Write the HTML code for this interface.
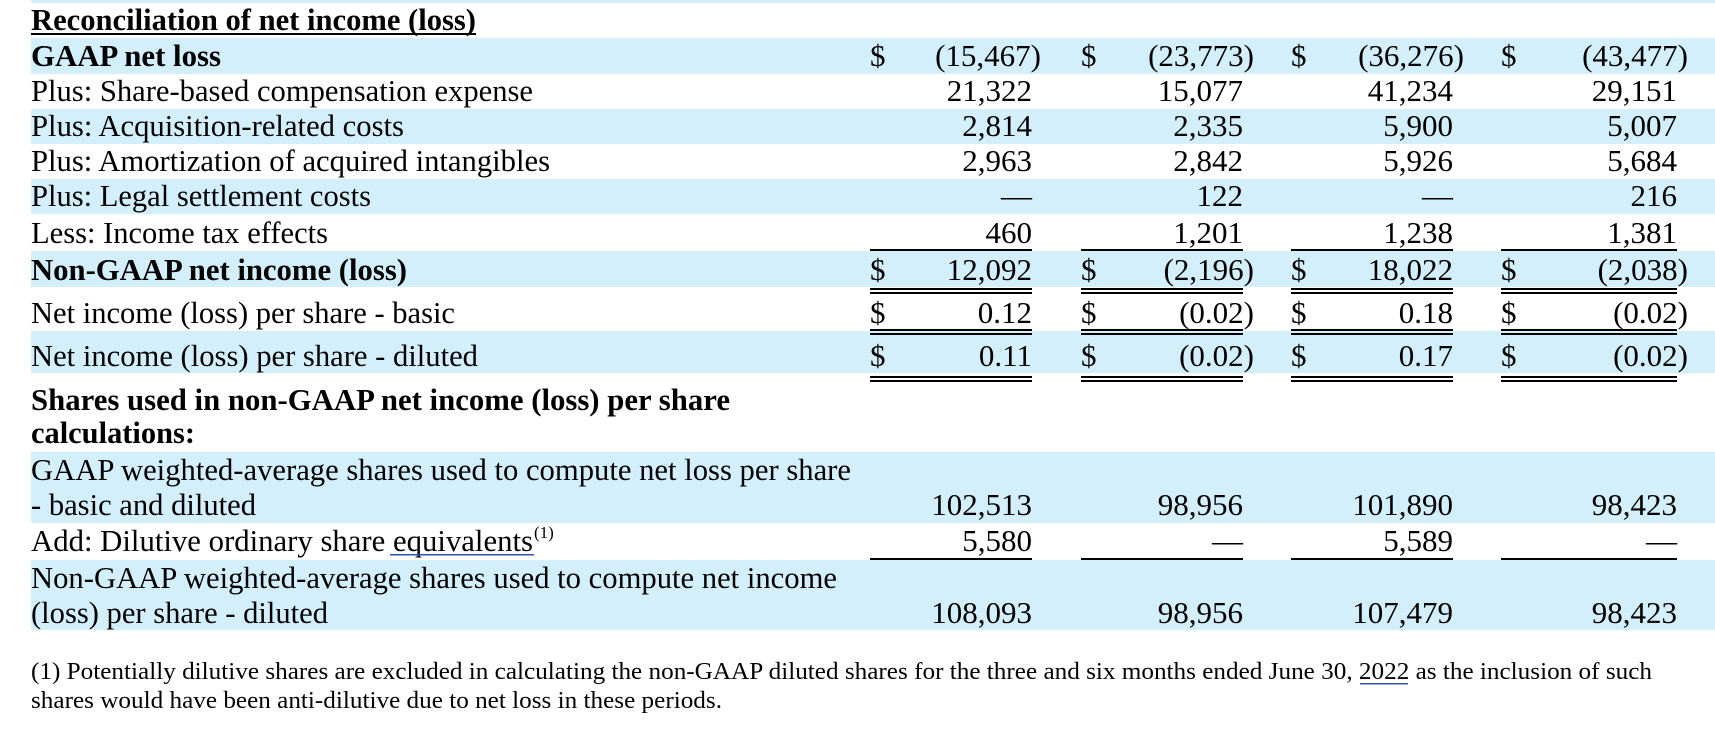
<!DOCTYPE html>
<html><head><meta charset="utf-8"><style>
html,body{margin:0;padding:0;background:#fff;width:1715px;height:731px;overflow:hidden}
svg{display:block}
svg text{font-family:'Liberation Serif','Times New Roman',Times,serif;font-size:31px;fill:#000}
.b{font-weight:bold}
.n{text-anchor:end}
</style></head><body>
<svg width="1715" height="731" xmlns="http://www.w3.org/2000/svg" font-family="Liberation Serif, Times New Roman, serif">
<g fill="#d3effb">
<rect x="31" y="0" width="1684" height="3"/>
<rect x="31" y="38" width="1684" height="36"/>
<rect x="31" y="109" width="1684" height="35"/>
<rect x="31" y="179" width="1684" height="35"/>
<rect x="31" y="251" width="1684" height="36"/>
<rect x="31" y="331" width="1684" height="42"/>
<rect x="31" y="452" width="1684" height="71"/>
<rect x="31" y="560" width="1684" height="70"/>
</g>
<text class="b" x="31" y="30" textLength="445" lengthAdjust="spacingAndGlyphs">Reconciliation of net income (loss)</text>
<rect x="31" y="33" width="445" height="2" fill="#000"/>
<text class="b" x="31" y="66" textLength="190" lengthAdjust="spacingAndGlyphs">GAAP net loss</text>
<text x="31" y="101" textLength="502" lengthAdjust="spacingAndGlyphs">Plus: Share-based compensation expense</text>
<text x="31" y="136" textLength="373" lengthAdjust="spacingAndGlyphs">Plus: Acquisition-related costs</text>
<text x="31" y="171" textLength="519" lengthAdjust="spacingAndGlyphs">Plus: Amortization of acquired intangibles</text>
<text x="31" y="206" textLength="340" lengthAdjust="spacingAndGlyphs">Plus: Legal settlement costs</text>
<text x="31" y="243" textLength="297" lengthAdjust="spacingAndGlyphs">Less: Income tax effects</text>
<text class="b" x="31" y="280" textLength="376" lengthAdjust="spacingAndGlyphs">Non-GAAP net income (loss)</text>
<text x="31" y="323" textLength="424" lengthAdjust="spacingAndGlyphs">Net income (loss) per share - basic</text>
<text x="31" y="366" textLength="447" lengthAdjust="spacingAndGlyphs">Net income (loss) per share - diluted</text>
<text class="b" x="31" y="410" textLength="699" lengthAdjust="spacingAndGlyphs">Shares used in non-GAAP net income (loss) per share</text>
<text class="b" x="31" y="443" textLength="164" lengthAdjust="spacingAndGlyphs">calculations:</text>
<text x="31" y="480" textLength="820" lengthAdjust="spacingAndGlyphs">GAAP weighted-average shares used to compute net loss per share</text>
<text x="31" y="515" textLength="225" lengthAdjust="spacingAndGlyphs">- basic and diluted</text>
<text x="31" y="551" textLength="502" lengthAdjust="spacingAndGlyphs">Add: Dilutive ordinary share equivalents</text>
<text x="534" y="538" style="font-size:17px">(1)</text>
<rect x="390" y="554" width="144" height="1.5" fill="#2f55a4"/>
<text x="31" y="588" textLength="806" lengthAdjust="spacingAndGlyphs">Non-GAAP weighted-average shares used to compute net income</text>
<text x="31" y="623" textLength="297" lengthAdjust="spacingAndGlyphs">(loss) per share - diluted</text>
<text x="31" y="679" style="font-size:24px" textLength="1621" lengthAdjust="spacingAndGlyphs">(1) Potentially dilutive shares are excluded in calculating the non-GAAP diluted shares for the three and six months ended June 30, 2022 as the inclusion of such</text>
<rect x="1360" y="683" width="48" height="1.5" fill="#2f55a4"/>
<text x="31" y="708" style="font-size:24px" textLength="691" lengthAdjust="spacingAndGlyphs">shares would have been anti-dilutive due to net loss in these periods.</text>

<g>
<text x="870" y="66">$</text><text x="1081" y="66">$</text><text x="1291" y="66">$</text><text x="1501" y="66">$</text>
<text x="870" y="280">$</text><text x="1081" y="280">$</text><text x="1291" y="280">$</text><text x="1501" y="280">$</text>
<text x="870" y="323">$</text><text x="1081" y="323">$</text><text x="1291" y="323">$</text><text x="1501" y="323">$</text>
<text x="870" y="366">$</text><text x="1081" y="366">$</text><text x="1291" y="366">$</text><text x="1501" y="366">$</text>
</g>
<g>
<text class="n" x="1041" y="66">(15,467)</text><text class="n" x="1254" y="66">(23,773)</text><text class="n" x="1464" y="66">(36,276)</text><text class="n" x="1688" y="66">(43,477)</text>
<text class="n" x="1032" y="101">21,322</text><text class="n" x="1243" y="101">15,077</text><text class="n" x="1453" y="101">41,234</text><text class="n" x="1677" y="101">29,151</text>
<text class="n" x="1032" y="136">2,814</text><text class="n" x="1243" y="136">2,335</text><text class="n" x="1453" y="136">5,900</text><text class="n" x="1677" y="136">5,007</text>
<text class="n" x="1032" y="171">2,963</text><text class="n" x="1243" y="171">2,842</text><text class="n" x="1453" y="171">5,926</text><text class="n" x="1677" y="171">5,684</text>
<text class="n" x="1032" y="206">—</text><text class="n" x="1243" y="206">122</text><text class="n" x="1453" y="206">—</text><text class="n" x="1677" y="206">216</text>
<text class="n" x="1032" y="243">460</text><text class="n" x="1243" y="243">1,201</text><text class="n" x="1453" y="243">1,238</text><text class="n" x="1677" y="243">1,381</text>
<text class="n" x="1032" y="280">12,092</text><text class="n" x="1254" y="280">(2,196)</text><text class="n" x="1453" y="280">18,022</text><text class="n" x="1688" y="280">(2,038)</text>
<text class="n" x="1032" y="323">0.12</text><text class="n" x="1254" y="323">(0.02)</text><text class="n" x="1453" y="323">0.18</text><text class="n" x="1688" y="323">(0.02)</text>
<text class="n" x="1032" y="366">0.11</text><text class="n" x="1254" y="366">(0.02)</text><text class="n" x="1453" y="366">0.17</text><text class="n" x="1688" y="366">(0.02)</text>
<text class="n" x="1032" y="515">102,513</text><text class="n" x="1243" y="515">98,956</text><text class="n" x="1453" y="515">101,890</text><text class="n" x="1677" y="515">98,423</text>
<text class="n" x="1032" y="551">5,580</text><text class="n" x="1243" y="551">—</text><text class="n" x="1453" y="551">5,589</text><text class="n" x="1677" y="551">—</text>
<text class="n" x="1032" y="623">108,093</text><text class="n" x="1243" y="623">98,956</text><text class="n" x="1453" y="623">107,479</text><text class="n" x="1677" y="623">98,423</text>
</g>
<g fill="#000">
<rect x="870" y="249" width="162" height="2"/><rect x="1081" y="249" width="162" height="2"/><rect x="1291" y="249" width="162" height="2"/><rect x="1501" y="249" width="176" height="2"/>
<rect x="870" y="288" width="162" height="2"/><rect x="1081" y="288" width="162" height="2"/><rect x="1291" y="288" width="162" height="2"/><rect x="1501" y="288" width="176" height="2"/>
<rect x="870" y="292" width="162" height="2"/><rect x="1081" y="292" width="162" height="2"/><rect x="1291" y="292" width="162" height="2"/><rect x="1501" y="292" width="176" height="2"/>
<rect x="870" y="329" width="162" height="2"/><rect x="1081" y="329" width="162" height="2"/><rect x="1291" y="329" width="162" height="2"/><rect x="1501" y="329" width="176" height="2"/>
<rect x="870" y="333" width="162" height="2"/><rect x="1081" y="333" width="162" height="2"/><rect x="1291" y="333" width="162" height="2"/><rect x="1501" y="333" width="176" height="2"/>
<rect x="870" y="376" width="162" height="2"/><rect x="1081" y="376" width="162" height="2"/><rect x="1291" y="376" width="162" height="2"/><rect x="1501" y="376" width="176" height="2"/>
<rect x="870" y="380" width="162" height="2"/><rect x="1081" y="380" width="162" height="2"/><rect x="1291" y="380" width="162" height="2"/><rect x="1501" y="380" width="176" height="2"/>
<rect x="870" y="558" width="162" height="2"/><rect x="1081" y="558" width="162" height="2"/><rect x="1291" y="558" width="162" height="2"/><rect x="1501" y="558" width="176" height="2"/>
</g>
</svg>
</body></html>
